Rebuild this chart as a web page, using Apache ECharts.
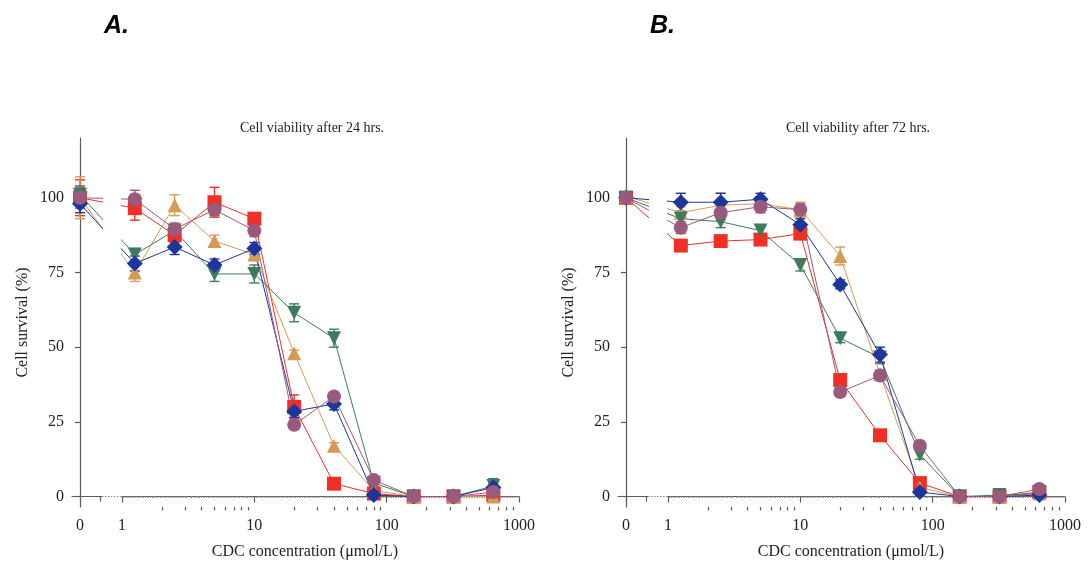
<!DOCTYPE html>
<html>
<head>
<meta charset="utf-8">
<script src="https://cdn.jsdelivr.net/npm/echarts@6/dist/echarts.min.js"></script>
<style>
  html, body { margin: 0; padding: 0; background: #fff; }
  #chart { width: 1092px; height: 570px; }
</style>
</head>
<body>
<div id="chart"></div>
<script>
// CDC concentrations in µmol/L (0 = untreated control)
const concentrations = [0, 1.25, 2.5, 5, 10, 20, 40, 80, 160, 320, 640];
const xTickLabels = ['1', '10', '100', '1000'];
const yTickValues = [0, 25, 50, 75, 100];

// Cell survival (%) after 24 h
const red24    = [100, 96.5, 87.5, 98.5, 93, 30, 4.3, 1, 0, 0, 0.5];
const orange24 = [100, 75, 97.5, 85.5, 81, 48, 17, 2, 0, 0, 0];
const green24  = [101, 81, 89, 74.5, 74.5, 61.5, 53, 4.5, 0, 0, 3.5];
const blue24   = [98, 78, 83.5, 77.5, 83, 28.5, 31, 0.5, 0, 0, 3];
const purple24 = [100, 99.5, 89.5, 96, 89, 24, 33.5, 5.5, 0, 0, 1.5];

// Standard deviations after 24 h
const redErr24    = [6, 4, 2.5, 5, 2, 4, 1, 1, 0.5, 0.5, 0.5];
const orangeErr24 = [7, 3, 3.5, 2, 2, 1, 1, 1, 0.5, 0.5, 0.5];
const greenErr24  = [3, 2, 2, 2.5, 3, 3, 3, 1, 0.5, 0.5, 2.5];
const blueErr24   = [3, 2.5, 2.5, 2, 2, 2, 2, 1, 0.5, 0.5, 1.5];
const purpleErr24 = [3.5, 3, 2, 2, 2, 1, 1, 1, 0.5, 0.5, 1];

// Cell survival (%) after 72 h
const red72    = [100, 84, 85.5, 86, 88, 39, 20.5, 4.5, 0, 0, 1.5];
const orange72 = [100.5, 95, 97.5, 98, 96, 80.5, 41, 3, 0, 0, 1];
const green72  = [100, 93, 92, 89, 77.5, 53, 46.5, 14, 0, 0.5, 1];
const blue72   = [100, 98.5, 98.5, 99.5, 91, 71, 47.5, 1.5, 0, 0, 0.5];
const purple72 = [100, 90, 95, 97, 96, 35, 40.5, 17, 0, 0, 2.5];

// Standard deviations after 72 h
const redErr72    = [1, 1.5, 1.5, 1.5, 1.5, 1.5, 1, 1, 0.5, 0.5, 0.5];
const orangeErr72 = [1.5, 2, 4, 2, 2.5, 3, 1.5, 1, 0.5, 0.5, 0.5];
const greenErr72  = [1.5, 2, 2, 2, 2, 1.5, 2, 1.5, 0.5, 0.5, 0.5];
const blueErr72   = [1.5, 3, 3, 2, 2, 1.5, 2.5, 1, 0.5, 0.5, 0.5];
const purpleErr72 = [1.5, 2, 2.5, 2, 2, 1.5, 1.5, 1.5, 0.5, 0.5, 1];

// ---- layout & styling ----
const DECADE = 132.5;            // pixels per decade on the log segment
const GAP = 42 / DECADE;         // distance between the "0" tick and 1, in decades
const BREAK_TICK = 20 / DECADE;  // tick marking the axis break
const Y_MIN = -3.5, Y_MAX = 120;
const SERIF = 'Liberation Serif';
const AXIS_COLOR = '#5a5a5a';

const markers = [
  { key: 'red',    color: '#ee3027', symbol: 'rect',     size: 14, rotate: 0 },
  { key: 'orange', color: '#d69a57', symbol: 'triangle', size: 14, rotate: 0 },
  { key: 'green',  color: '#3f7a5d', symbol: 'triangle', size: 14, rotate: 180 },
  { key: 'blue',   color: '#1c369c', symbol: 'diamond',  size: 16, rotate: 0 },
  { key: 'purple', color: '#9a5a7e', symbol: 'circle',   size: 14, rotate: 0 }
];

const panels = [
  { off: 0,   letter: 'A.', title: 'Cell viability after 24 hrs.',
    values: [red24, orange24, green24, blue24, purple24],
    errors: [redErr24, orangeErr24, greenErr24, blueErr24, purpleErr24] },
  { off: 546, letter: 'B.', title: 'Cell viability after 72 hrs.',
    values: [red72, orange72, green72, blue72, purple72],
    errors: [redErr72, orangeErr72, greenErr72, blueErr72, purpleErr72] }
];

// minor log ticks 2..9 in each decade
const minorTicks = [];
for (let d = 0; d < 3; d++) for (let k = 2; k <= 9; k++) minorTicks.push(d + Math.log10(k));

// position on the short "0" segment (0 sits at its origin)
const posLeft = c => (c === 0 ? 0 : GAP + Math.log10(c));
// position on the log segment (1 sits at its origin)
const posRight = c => (c === 0 ? -GAP : Math.log10(c));

function errorBars(color) {
  return function (params, api) {
    const x = api.value(0), y = api.value(1), e = api.value(2);
    const hi = api.coord([x, y + e]);
    const lo = api.coord([x, y - e]);
    const hw = 5;
    const style = { stroke: color, lineWidth: 1.4 };
    return {
      type: 'group',
      children: [
        { type: 'line', shape: { x1: hi[0], y1: hi[1], x2: lo[0], y2: lo[1] }, style },
        { type: 'line', shape: { x1: hi[0] - hw, y1: hi[1], x2: hi[0] + hw, y2: hi[1] }, style },
        { type: 'line', shape: { x1: lo[0] - hw, y1: lo[1], x2: lo[0] + hw, y2: lo[1] }, style }
      ]
    };
  };
}

const grids = [], xAxes = [], yAxes = [], series = [], titles = [], graphics = [];
const axisLine = { show: true, onZero: true, lineStyle: { color: AXIS_COLOR, width: 1.2 } };
const tickStyle = { color: AXIS_COLOR, width: 1.2 };
const labelText = { fontFamily: SERIF, fontSize: 16, color: '#222' };

panels.forEach(p => {
  const g = grids.length;
  grids.push({ left: 72 + p.off, top: 138, width: 30, height: 369 });
  grids.push({ left: 122 + p.off, top: 138, width: 397, height: 369 });

  const xL = xAxes.length;
  xAxes.push({
    gridIndex: g, type: 'value', position: 'bottom',
    min: -8 / DECADE, max: 22 / DECADE,
    axisLine,
    axisTick: { show: true, customValues: [0, BREAK_TICK], length: 5, lineStyle: tickStyle },
    axisLabel: { customValues: [0], formatter: () => '0', margin: 11, ...labelText },
    splitLine: { show: false }
  });
  xAxes.push({
    gridIndex: g + 1, type: 'value', position: 'bottom', min: 0, max: 3,
    axisLine,
    axisTick: { show: true, customValues: [0, 1, 2, 3], length: 6, lineStyle: tickStyle },
    axisLabel: { customValues: [0, 1, 2, 3], formatter: v => xTickLabels[Math.round(v)], margin: 11, ...labelText },
    minorTick: { show: true, splitNumber: 40, length: 1.5, lineStyle: { color: '#999', width: 1 } },
    splitLine: { show: false }
  });
  xAxes.push({
    gridIndex: g + 1, type: 'value', position: 'bottom', min: 0, max: 3,
    axisLine: { show: false, onZero: true },
    axisTick: { show: true, customValues: minorTicks, length: 3.5, lineStyle: tickStyle },
    axisLabel: { show: false },
    splitLine: { show: false }
  });

  const yL = yAxes.length;
  yAxes.push({
    gridIndex: g, type: 'value', min: Y_MIN, max: Y_MAX,
    axisLine,
    axisTick: { show: true, customValues: yTickValues, length: 5, lineStyle: tickStyle },
    axisLabel: { customValues: yTickValues, margin: 8, ...labelText },
    splitLine: { show: false },
    name: 'Cell survival (%)', nameLocation: 'middle', nameGap: 41,
    nameTextStyle: { fontFamily: SERIF, fontSize: 16, color: '#222' }
  });
  yAxes.push({ gridIndex: g + 1, type: 'value', min: Y_MIN, max: Y_MAX, show: false });

  markers.forEach((m, i) => {
    const vals = p.values[i], errs = p.errors[i];
    const common = {
      type: 'line', clip: true, animation: false,
      symbol: m.symbol, symbolSize: m.size, symbolRotate: m.rotate, showAllSymbol: true,
      itemStyle: { color: m.color },
      lineStyle: { color: m.color, width: 1 },
      z: 3
    };
    // short segment near 0: the control point and the line leaving it
    series.push({
      ...common, name: m.key, xAxisIndex: xL, yAxisIndex: yL,
      data: [0, 1].map(k => [posLeft(concentrations[k]), vals[k]])
    });
    series.push({
      type: 'custom', name: m.key, xAxisIndex: xL, yAxisIndex: yL, z: 2,
      renderItem: errorBars(m.color), encode: { x: 0, y: 1 },
      data: [[posLeft(concentrations[0]), vals[0], errs[0]]]
    });
    // log segment
    series.push({
      ...common, name: m.key, xAxisIndex: xL + 1, yAxisIndex: yL + 1,
      data: concentrations.map((c, k) => [posRight(c), vals[k]])
    });
    series.push({
      type: 'custom', name: m.key, xAxisIndex: xL + 1, yAxisIndex: yL + 1, z: 2,
      renderItem: errorBars(m.color), encode: { x: 0, y: 1 },
      data: concentrations.slice(1).map((c, k) => [posRight(c), vals[k + 1], errs[k + 1]])
    });
  });

  titles.push({
    text: p.letter, left: 99 + p.off, top: 9,
    textStyle: { fontFamily: 'Liberation Sans', fontStyle: 'italic', fontWeight: 'bold', fontSize: 25, color: '#000' }
  });
  titles.push({
    text: p.title, left: 307 + p.off, top: 116, textAlign: 'center',
    textStyle: { fontFamily: SERIF, fontSize: 14, fontWeight: 'normal', color: '#222' }
  });
  titles.push({
    text: 'CDC concentration (\u03bcmol/L)', left: 300 + p.off, top: 539, textAlign: 'center',
    textStyle: { fontFamily: SERIF, fontSize: 16, fontWeight: 'normal', color: '#222' }
  });

  // dotted stretch of the x axis across the break
  graphics.push({
    type: 'line', z: 10,
    shape: { x1: 102 + p.off, y1: 496.5, x2: 122 + p.off, y2: 496.5 },
    style: { stroke: '#888', lineWidth: 1.2, lineDash: [1.5, 1.5] }
  });
});

const chart = echarts.init(document.getElementById('chart'), null, { renderer: 'canvas' });
chart.setOption({
  backgroundColor: '#fff',
  animation: false,
  title: titles,
  grid: grids,
  xAxis: xAxes,
  yAxis: yAxes,
  series,
  graphic: graphics
});
</script>
</body>
</html>
